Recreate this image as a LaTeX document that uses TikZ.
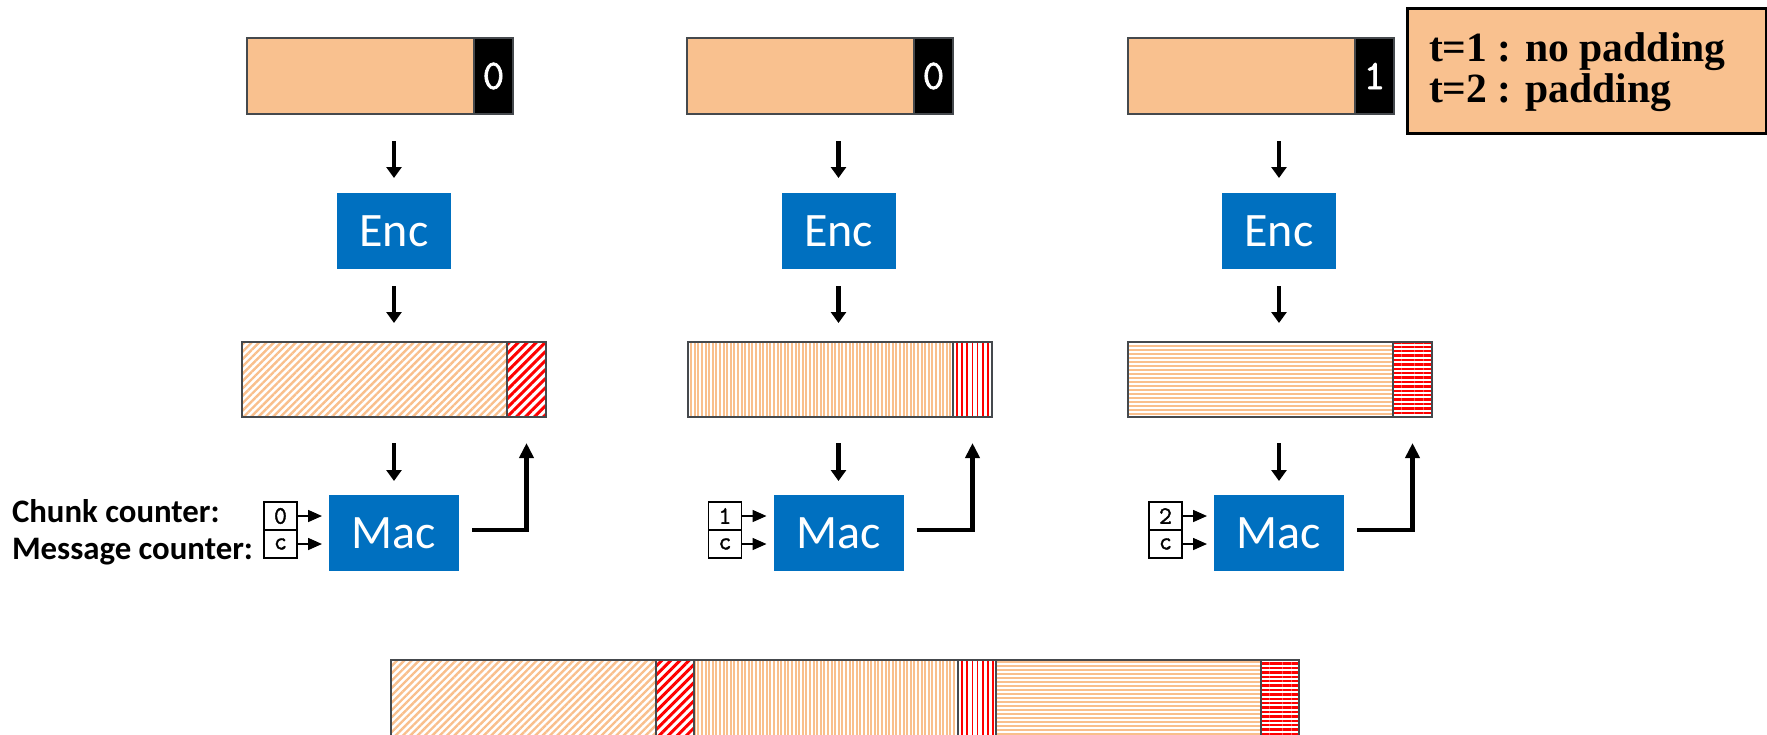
\documentclass[tikz,border=0pt]{standalone}
\usepackage{fontspec}
\setmainfont{Carlito}
\newfontfamily\legendfont{Liberation Serif}
\newfontfamily\digitfont[FakeBold=1.6]{Latin Modern Mono}
\usetikzlibrary{arrows.meta,patterns.meta,calc}

\definecolor{dataorange}{HTML}{F9C18F}
\definecolor{hatchorange}{HTML}{F9BF8C}
\definecolor{hatchred}{HTML}{FF0000}
\definecolor{blockblue}{HTML}{0070C0}
\definecolor{barframe}{HTML}{45494D}

\tikzset{
  every node/.style={inner sep=0pt, outer sep=0pt},
  databox/.style={draw=barframe, line width=1pt, fill=dataorange, anchor=north west, minimum height=38pt},
  tagbox/.style={draw=barframe, line width=1pt, fill=black, text=white, anchor=north west,
    minimum width=19.5pt, minimum height=38pt, font=\digitfont\fontsize{21}{21}\selectfont},
  barbox/.style={draw=barframe, line width=1pt, anchor=north west, minimum height=37.5pt},
  hatch1/.style={pattern={Lines[angle=45,distance=2.6pt,line width=1.2pt]}, pattern color=hatchorange},
  rtag1/.style={pattern={Lines[angle=45,distance=3.2pt,line width=1.5pt]}, pattern color=hatchred},
  hatch2/.style={pattern={Lines[angle=90,distance=1.8pt,line width=1pt]}, pattern color=hatchorange},
  rtag2/.style={pattern={Lines[angle=90,distance=2.6pt,line width=0.8pt]}, pattern color=hatchred},
  hatch3/.style={pattern={Lines[angle=0,distance=2pt,line width=1pt]}, pattern color=hatchorange},
  rtag3/.style={pattern={Lines[angle=0,distance=2.2pt,line width=1.2pt]}, pattern color=hatchred},
  block/.style={fill=blockblue, text=white, minimum height=38pt, font=\fontsize{24}{24}\selectfont},
  ctr/.style={draw=black, line width=0.6pt, fill=white, minimum width=16.5pt, minimum height=14pt,
    font=\digitfont\fontsize{12.5}{12.5}\selectfont},
  flow/.style={line width=2.2pt, -{Triangle[width=7.5pt,length=5.5pt]}},
  back/.style={line width=2.3pt, -{Triangle[width=7pt,length=7.5pt]}},
  feed/.style={line width=0.8pt, -{Triangle[width=6pt,length=7pt]}},
  labeltext/.style={anchor=base west, font=\bfseries\fontsize{16.4}{16.4}\selectfont},
  legendbox/.style={draw=black, line width=1.5pt, fill=dataorange, anchor=north west},
  legendtext/.style={anchor=base west, font=\legendfont\bfseries\fontsize{20.8}{20.8}\selectfont}
}

\begin{document}
\begin{tikzpicture}[x=0.5pt, y=-0.5pt]
\useasboundingbox (0,0) rectangle (1767,734);

% three processing columns: plaintext chunk, Enc, ciphertext chunk, Mac
\foreach \i/\tl/\ml/\cx/\dig/\cnt in {1/247/242/394/0/0, 2/687/688/838.5/0/1, 3/1128/1128/1279/1/2}{
  \node[databox, minimum width=113.5pt] (top\i) at (\tl,38) {};
  \node[tagbox] (tag\i) at (\tl+227,38) {\dig};
  \node[block, minimum width=57pt] (enc\i) at (\cx,231) {Enc};
  \node[barbox, hatch\i, minimum width=132.5pt] (mid\i) at (\ml,342) {};
  \node[barbox, rtag\i, minimum width=19.5pt] (red\i) at (\ml+265,342) {};
  \node[block, minimum width=65pt] (mac\i) at (\cx,533) {Mac};
  \node[ctr, anchor=south east] (cu\i) at (\cx-97,530) {\cnt};
  \node[ctr, anchor=north east] (cm\i) at (\cx-97,530) {c};

  \draw[flow, shorten <=13.5pt, shorten >=7.5pt] (top\i.south -| enc\i.north) -- (enc\i.north);
  \draw[flow, shorten <=8.5pt, shorten >=9.5pt] (enc\i.south) -- (enc\i.south |- mid\i.north);
  \draw[flow, shorten <=13pt, shorten >=7pt] (mid\i.south -| mac\i.north) -- (mac\i.north);
  \draw[feed, shorten >=3.5pt] (cu\i.east) -- (cu\i.east -| mac\i.west);
  \draw[feed, shorten >=3.5pt] (cm\i.east) -- (cm\i.east -| mac\i.west);
  \draw[back] ([xshift=6.5pt,yshift=1.5pt]mac\i.east) -| ([yshift=-13pt]red\i.south);
}

% counter captions
\node[labeltext] (lchunk) at (12,522) {Chunk counter:};
\node[labeltext] (lmsg) at (12,559) {Message counter:};

% concatenated output
\node[barbox, hatch1, minimum width=132.5pt, minimum height=38.5pt] (b1) at (391,660) {};
\node[barbox, rtag1, minimum width=19pt, minimum height=38.5pt] (b2) at (656,660) {};
\node[barbox, hatch2, minimum width=132pt, minimum height=38.5pt] (b3) at (694,660) {};
\node[barbox, rtag2, minimum width=19pt, minimum height=38.5pt] (b4) at (958,660) {};
\node[barbox, hatch3, minimum width=132.5pt, minimum height=38.5pt] (b5) at (996,660) {};
\node[barbox, rtag3, minimum width=19pt, minimum height=38.5pt] (b6) at (1261,660) {};

% legend
\node[legendbox, minimum width=179.5pt, minimum height=62.5pt] (key) at (1407,8) {};
\node[legendtext] (key1) at (1429,61) {t=1 : no padding};
\node[legendtext] (key2) at (1429,102) {t=2 : padding};
\end{tikzpicture}
\end{document}
